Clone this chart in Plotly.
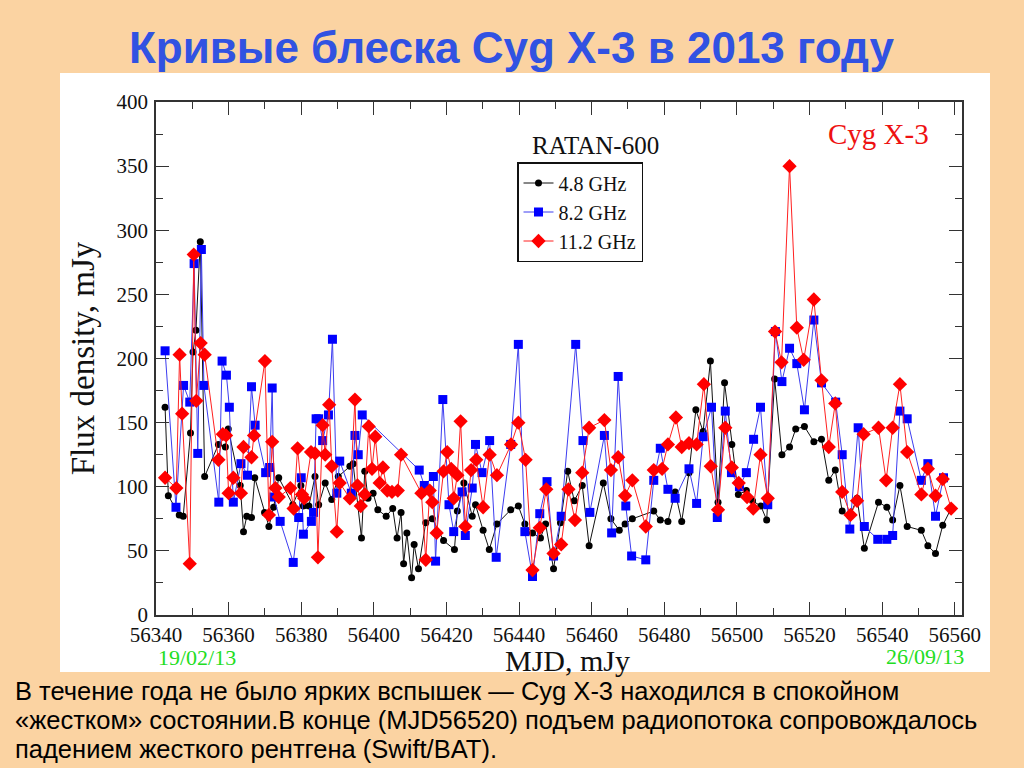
import plotly.graph_objects as go

# 4.8 GHz
mjd_48 = [56342.5, 56343.4, 56346.4, 56347.5, 56349.5, 56350.2, 56351.0, 56352.2, 56353.4, 56357.2,
          56359.1, 56359.9, 56363.2, 56364.1, 56365.0, 56366.3, 56367.2, 56369.9, 56371.1, 56372.4,
          56373.8, 56377.7, 56379.9, 56380.6, 56382.1, 56383.8, 56384.8, 56386.6, 56388.4, 56390.2,
          56393.4, 56394.3, 56396.6, 56397.5, 56398.4, 56399.8, 56401.1, 56403.4, 56405.2, 56406.4,
          56407.5, 56408.2, 56409.1, 56410.4, 56411.1, 56412.3, 56414.3, 56416.1, 56419.2, 56422.2,
          56423.0, 56424.8, 56427.1, 56428.0, 56430.1, 56431.8, 56433.9, 56437.7, 56439.8, 56441.6,
          56443.7, 56445.9, 56447.3, 56449.5, 56451.4, 56453.4, 56455.2, 56457.4, 56459.3, 56463.2,
          56465.3, 56467.6, 56469.2, 56471.2, 56477.1, 56478.9, 56481.0, 56483.0, 56484.8, 56486.8,
          56488.7, 56490.7, 56492.7, 56494.8, 56496.6, 56498.6, 56500.4, 56502.6, 56504.3, 56506.6,
          56508.2, 56510.4, 56512.4, 56514.5, 56516.2, 56518.6, 56521.2, 56523.3, 56525.3, 56527.1,
          56529.0, 56531.1, 56533.1, 56535.1, 56539.0, 56541.3, 56542.9, 56544.9, 56546.9, 56550.8,
          56552.6, 56554.7, 56556.7, 56559.0]
flux_48 = [162, 93, 78, 77, 142, 205, 222, 291, 108, 133,
           131, 145, 101, 65, 77, 76, 107, 80, 69, 84,
           107, 86, 101, 85, 85, 108, 86, 103, 90, 108,
           116, 118, 60, 112, 91, 95, 82, 77, 83, 60,
           80, 40, 64, 29, 55, 36, 72, 75, 58, 51,
           81, 103, 77, 86, 66, 51, 71, 82, 85, 71,
           64, 60, 71, 36, 72, 112, 89, 101, 54, 103,
           75, 66, 71, 75, 81, 74, 73, 96, 73, 111,
           160, 143, 198, 88, 181, 133, 94, 97, 89, 85,
           74, 184, 125, 131, 145, 147, 135, 137, 105, 113,
           81, 77, 91, 52, 88, 84, 74, 101, 69, 66,
           54, 48, 70, 83]

# 8.2 GHz
mjd_82 = [56342.5, 56345.5, 56347.6, 56349.3, 56350.5, 56351.5, 56352.5, 56353.2, 56357.3, 56358.2,
          56359.4, 56360.2, 56361.3, 56363.4, 56365.2, 56366.3, 56367.3, 56370.2, 56371.3, 56372.0,
          56372.5, 56374.2, 56377.8, 56379.3, 56380.0, 56380.6, 56382.8, 56383.4, 56384.1, 56384.8,
          56385.9, 56387.5, 56388.6, 56389.8, 56390.6, 56393.8, 56394.8, 56395.7, 56396.8, 56412.5,
          56413.9, 56416.4, 56417.0, 56419.0, 56420.7, 56422.0, 56424.3, 56425.2, 56427.1, 56428.0,
          56429.8, 56431.9, 56433.7, 56437.7, 56439.8, 56441.6, 56443.7, 56445.7, 56447.7, 56449.5,
          56451.6, 56455.6, 56457.6, 56459.5, 56463.5, 56465.5, 56467.3, 56469.4, 56471.0, 56474.9,
          56477.1, 56478.9, 56481.0, 56483.0, 56486.8, 56488.9, 56490.7, 56493.0, 56494.6, 56496.8,
          56498.5, 56500.7, 56502.6, 56504.6, 56506.5, 56508.5, 56510.6, 56512.4, 56514.5, 56516.5,
          56518.6, 56521.2, 56523.3, 56527.2, 56529.0, 56531.1, 56533.4, 56535.1, 56538.8, 56541.3,
          56542.9, 56544.9, 56546.9, 56550.8, 56552.6, 56554.7, 56556.9]
flux_82 = [206, 84, 179, 166, 274, 126, 285, 179, 88, 198,
           187, 162, 88, 118, 109, 178, 148, 111, 115, 177,
           92, 73, 41, 76, 107, 63, 73, 80, 153, 153,
           136, 156, 215, 95, 120, 95, 140, 125, 156, 113,
           101, 108, 42, 168, 86, 65, 96, 62, 99, 133,
           111, 136, 45, 133, 211, 65, 30, 79, 104, 46,
           77, 211, 136, 80, 140, 64, 186, 85, 46, 43,
           105, 130, 98, 91, 114, 87, 139, 162, 76, 159,
           111, 100, 111, 137, 162, 86, 221, 182, 208, 196,
           160, 230, 181, 166, 125, 67, 146, 69, 59, 59,
           62, 159, 153, 105, 118, 77, 107]

# 11.2 GHz
mjd_112 = [56342.5, 56345.6, 56346.5, 56347.2, 56349.3, 56350.4, 56351.1, 56352.3, 56353.4, 56357.2,
           56358.4, 56359.3, 56360.0, 56361.3, 56363.4, 56364.1, 56366.3, 56367.0, 56370.0, 56371.1,
           56372.0, 56372.9, 56373.8, 56377.0, 56377.9, 56379.0, 56380.2, 56380.8, 56382.7, 56383.8,
           56384.6, 56385.9, 56386.6, 56387.7, 56388.4, 56389.8, 56390.6, 56393.4, 56394.8, 56395.5,
           56396.4, 56397.5, 56398.6, 56399.5, 56400.4, 56401.6, 56402.5, 56403.7, 56405.0, 56406.6,
           56407.5, 56413.1, 56414.3, 56415.4, 56416.1, 56417.3, 56419.2, 56420.2, 56421.3, 56422.0,
           56423.0, 56423.9, 56425.2, 56426.8, 56428.2, 56430.1, 56431.9, 56433.9, 56437.8, 56439.8,
           56441.8, 56443.7, 56445.7, 56447.5, 56449.5, 56451.6, 56453.6, 56455.4, 56457.4, 56459.3,
           56463.5, 56465.3, 56467.3, 56469.2, 56471.2, 56474.9, 56477.1, 56479.4, 56481.0, 56483.2,
           56484.8, 56486.8, 56488.9, 56490.9, 56492.8, 56494.8, 56496.8, 56498.6, 56500.5, 56502.8,
           56504.5, 56506.5, 56508.5, 56510.5, 56512.3, 56514.5, 56516.5, 56518.4, 56521.2, 56523.3,
           56525.3, 56527.1, 56529.0, 56531.3, 56533.1, 56534.9, 56539.0, 56541.1, 56542.9, 56544.9,
           56546.9, 56550.8, 56552.6, 56554.7, 56556.7, 56559.0]
flux_112 = [107, 99, 203, 157, 40, 281, 167, 212, 203, 121,
            141, 140, 95, 107, 95, 131, 123, 140, 198, 78,
            135, 99, 92, 99, 83, 130, 94, 91, 127, 126,
            45, 148, 125, 164, 116, 65, 103, 91, 168, 101,
            85, 94, 147, 114, 139, 103, 115, 97, 96, 97,
            125, 95, 43, 97, 88, 64, 112, 127, 114, 91,
            109, 151, 69, 113, 121, 84, 125, 109, 133, 150,
            121, 35, 68, 98, 48, 55, 98, 74, 111, 146,
            152, 113, 123, 93, 105, 69, 113, 114, 133, 154,
            131, 134, 133, 180, 116, 82, 146, 115, 103, 92,
            83, 125, 91, 221, 197, 350, 224, 199, 246, 183,
            131, 165, 96, 78, 89, 141, 146, 105, 146, 180,
            127, 94, 114, 93, 106, 83]

series_names = ["4.8 GHz", "8.2 GHz", "11.2 GHz"]
x_ticks = [56340, 56360, 56380, 56400, 56420, 56440, 56460, 56480, 56500, 56520, 56540, 56560]
y_ticks = [0, 50, 100, 150, 200, 250, 300, 350, 400]

SERIF = "Liberation Serif, Times New Roman, serif"
BG = "#FBD3A2"

fig = go.Figure()
fig.add_trace(go.Scatter(x=mjd_48, y=flux_48, mode="lines+markers", name=series_names[0],
                         line=dict(color="#111111", width=1),
                         marker=dict(symbol="circle", size=7, color="black")))
fig.add_trace(go.Scatter(x=mjd_82, y=flux_82, mode="lines+markers", name=series_names[1],
                         line=dict(color="#3c3cf0", width=1),
                         marker=dict(symbol="square", size=9, color="#0000ff")))
fig.add_trace(go.Scatter(x=mjd_112, y=flux_112, mode="lines+markers", name=series_names[2],
                         line=dict(color="#ff2020", width=1),
                         marker=dict(symbol="diamond", size=11, color="#ff0000")))

axis_common = dict(showgrid=False, zeroline=False, showline=True, linecolor="#333333", linewidth=1.5,
                   mirror="allticks", ticks="inside", ticklen=13, tickwidth=1, tickcolor="#333333",
                   tickfont=dict(family=SERIF, size=21, color="#111111"))

fig.update_xaxes(range=[56340, 56562], tickvals=x_ticks, ticktext=[str(v) for v in x_ticks],
                 minor=dict(dtick=10, tick0=56340, ticks="inside", ticklen=7, tickcolor="#333333"),
                 ticklabelstandoff=0,
                 **axis_common)
fig.update_yaxes(range=[0, 400], tickvals=y_ticks, ticktext=[str(v) for v in y_ticks],
                 minor=dict(dtick=25, tick0=0, ticks="inside", ticklen=7, tickcolor="#333333"),
                 title=dict(text="Flux density, mJy", font=dict(family=SERIF, size=33, color="#111111"), standoff=12),
                 ticklabelstandoff=2,
                 **axis_common)

L, R, T, B = 156, 62, 102, 153
pw, ph = 1024 - L - R, 768 - T - B

def px(x):
    return (x - L) / pw

def py(y):
    return (768 - B - y) / ph

fig.add_shape(type="rect", xref="paper", yref="paper", x0=px(60), x1=px(990), y0=py(672), y1=py(73),
              fillcolor="white", line=dict(width=0), layer="below")

TITLE_FONT = "Liberation Sans Narrow, Arial Narrow, sans-serif"

def ann(text, x, y, font, xanchor="center"):
    return dict(text=text, x=px(x), y=py(y), xref="paper", yref="paper", showarrow=False,
                xanchor=xanchor, yanchor="middle", font=font)

annotations = [
    ann("<b>Кривые блеска Cyg X-3 в 2013 году</b>", 512, 48, dict(family=TITLE_FONT, size=44, color="#3152e2")),
    ann("RATAN-600", 595, 145, dict(family=SERIF, size=25, color="#111111")),
    ann("Cyg X-3", 878, 134, dict(family=SERIF, size=29, color="#ee1111")),
    ann("19/02/13", 197, 657, dict(family=SERIF, size=22, color="#22dd22")),
    ann("26/09/13", 925, 656, dict(family=SERIF, size=22, color="#22dd22")),
    ann("MJD, mJy", 567, 660, dict(family=SERIF, size=30, color="#111111")),
]
body = ["В течение года не было ярких вспышек — Cyg X-3 находился в спокойном",
        "«жестком» состоянии.В конце (MJD56520) подъем радиопотока сопровождалось",
        "падением жесткого рентгена (Swift/BAT)."]
for i, line in enumerate(body):
    annotations.append(ann(line, 13, 691 + i * 29,
                           dict(family="Liberation Sans, Arial, sans-serif", size=25.5, color="#000000"),
                           xanchor="left"))

fig.update_layout(
    width=1024, height=768, autosize=False,
    margin=dict(l=L, r=R, t=T, b=B, pad=0),
    paper_bgcolor=BG, plot_bgcolor="white",
    showlegend=True,
    legend=dict(x=px(517), y=py(162), xanchor="left", yanchor="top",
                bgcolor="white", bordercolor="#111111", borderwidth=1.5,
                font=dict(family=SERIF, size=20, color="#111111"),
                tracegroupgap=0, itemwidth=30),
    annotations=annotations,
)

fig.write_html("out.html", config={"displayModeBar": False},
               post_script="document.body.style.margin='0';document.body.style.padding='0';"
                           "document.body.style.overflow='hidden';")
